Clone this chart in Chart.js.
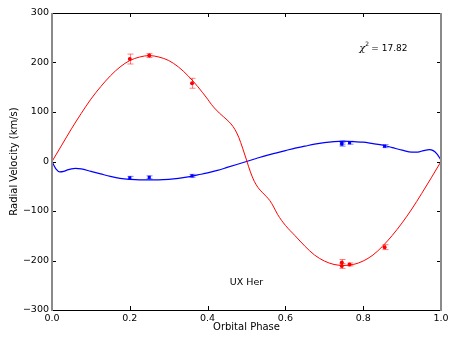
<!DOCTYPE html>
<html>
<head>
<meta charset="utf-8">
<script src="https://cdn.jsdelivr.net/npm/chart.js@4.4.1/dist/chart.umd.min.js"></script>
<style>
  html, body { margin: 0; padding: 0; background: #fff; }
  #wrap { width: 458px; height: 343px; }
</style>
</head>
<body>
<div id="wrap"><canvas id="rv" width="458" height="343"></canvas></div>
<script>
// observed radial velocities (km/s) with errors
const obsPhase = [0.20, 0.25, 0.36, 0.745, 0.745, 0.765, 0.855];
const obsRed = [207, 214, 158, -204, -211, -208, -173];
const errRed = [10, 4, 10, 6, 5, 3, 5];
const obsBlue = [-33, -32, -29, 35, 38, 38, 31];
const errBlue = [3, 3, 3, 4, 3, 3, 3];

// model curves
const modelPhaseRed = [0, 0.025, 0.05, 0.075, 0.1, 0.125, 0.15, 0.175, 0.2, 0.225, 0.25, 0.275, 0.3, 0.325,
  0.35, 0.375, 0.4, 0.41, 0.42, 0.43, 0.44, 0.45, 0.46, 0.47, 0.48, 0.49, 0.5, 0.51, 0.52, 0.53, 0.54,
  0.55, 0.56, 0.57, 0.58, 0.6, 0.625, 0.65, 0.675, 0.7, 0.725, 0.75, 0.775, 0.8, 0.825, 0.85, 0.875,
  0.9, 0.925, 0.95, 0.975, 1.0];
const modelRed = [0, 33, 66, 97, 126, 151, 173, 191, 204, 211, 214, 211, 204, 191,
  173, 151, 126, 115, 106, 98, 91, 84, 76, 65, 49, 27, 3, -21, -40, -53, -62,
  -70, -79, -92, -107, -129, -150, -171, -189, -201, -208, -210, -208, -201, -189, -171, -149,
  -124, -96, -65, -33, 0];

const modelPhaseBlue = [0, 0.005, 0.01, 0.02, 0.03, 0.04, 0.05, 0.06, 0.075, 0.1, 0.125, 0.15, 0.175,
  0.2, 0.225, 0.25, 0.275, 0.3, 0.325, 0.35, 0.375, 0.4, 0.425, 0.45, 0.475, 0.5, 0.525, 0.55,
  0.575, 0.6, 0.625, 0.65, 0.675, 0.7, 0.725, 0.75, 0.775, 0.8, 0.825, 0.85, 0.875, 0.9, 0.925,
  0.94, 0.955, 0.97, 0.98, 0.99, 1.0];
const modelBlue = [0, -8, -15, -21, -20, -17, -15, -14, -15, -20, -25, -30, -34,
  -36, -37, -37, -37, -36, -34, -31, -27, -23, -18, -12, -6, 0, 6, 12,
  17, 22, 27, 31, 35, 38, 40, 41, 40, 39, 36, 33, 28, 23, 19,
  19, 22, 24, 22, 15, 3];

const xTicks = [0, 0.2, 0.4, 0.6, 0.8, 1.0];
const yTicks = [-300, -200, -100, 0, 100, 200, 300];
const chiText = "17.82";
const starName = "UX Her";

function pts(xs, ys) {
  return xs.map((x, i) => ({ x, y: ys[i] }));
}

const FONT = "'DejaVu Sans', sans-serif";

// error bars, frame, inward ticks and annotations
const decor = {
  id: "decor",
  afterDatasetsDraw(chart) {
    const { ctx, scales: { x, y } } = chart;
    ctx.save();
    chart.data.datasets.forEach((ds) => {
      if (!ds.errors) return;
      ctx.strokeStyle = ds.errColor;
      ctx.lineWidth = 1;
      ds.data.forEach((p, i) => {
        const px = Math.round(x.getPixelForValue(p.x)) + 0.5;
        const y1 = y.getPixelForValue(p.y - ds.errors[i]);
        const y2 = y.getPixelForValue(p.y + ds.errors[i]);
        ctx.beginPath();
        ctx.moveTo(px, y1); ctx.lineTo(px, y2);
        ctx.moveTo(px - 3, y1); ctx.lineTo(px + 3, y1);
        ctx.moveTo(px - 3, y2); ctx.lineTo(px + 3, y2);
        ctx.stroke();
      });
    });
    ctx.restore();
  },
  afterDraw(chart) {
    const { ctx, chartArea: a, scales: { x, y } } = chart;
    ctx.save();
    // ticks inward
    ctx.strokeStyle = "#000";
    ctx.lineWidth = 1;
    ctx.beginPath();
    xTicks.forEach((t) => {
      const px = Math.round(x.getPixelForValue(t)) + 0.5;
      ctx.moveTo(px, a.bottom); ctx.lineTo(px, a.bottom - 4);
      ctx.moveTo(px, a.top); ctx.lineTo(px, a.top + 4);
    });
    yTicks.forEach((t) => {
      const py = Math.round(y.getPixelForValue(t)) + 0.5;
      ctx.moveTo(a.left, py); ctx.lineTo(a.left + 4, py);
      ctx.moveTo(a.right, py); ctx.lineTo(a.right - 4, py);
    });
    ctx.stroke();
    // frame
    ctx.beginPath();
    ctx.moveTo(a.left, a.top + 0.5); ctx.lineTo(a.right, a.top + 0.5);
    ctx.moveTo(a.left, a.bottom + 0.5); ctx.lineTo(a.right, a.bottom + 0.5);
    ctx.stroke();
    ctx.strokeStyle = "#8a8a8a";
    ctx.lineWidth = 2;
    ctx.beginPath();
    ctx.moveTo(a.left, a.top); ctx.lineTo(a.left, a.bottom + 1);
    ctx.moveTo(a.right, a.top); ctx.lineTo(a.right, a.bottom + 1);
    ctx.stroke();

    // axis titles
    ctx.fillStyle = "#000";
    ctx.font = "10px " + FONT;
    ctx.textAlign = "center";
    ctx.textBaseline = "middle";
    ctx.fillText("Orbital Phase", (a.left + a.right) / 2, 327);
    ctx.save();
    ctx.translate(14, (a.top + a.bottom) / 2);
    ctx.rotate(-Math.PI / 2);
    ctx.fillText("Radial Velocity (km/s)", 0, 0);
    ctx.restore();

    // annotations
    ctx.font = "9.5px " + FONT;
    ctx.fillText(starName, x.getPixelForValue(0.5), y.getPixelForValue(-245));
    const cx = x.getPixelForValue(0.79);
    const cy = y.getPixelForValue(228);
    ctx.textAlign = "left";
    ctx.font = "italic 10px 'DejaVu Serif', serif";
    ctx.fillText("\u03c7", cx, cy);
    ctx.font = "6px " + FONT;
    ctx.fillText("2", cx + 6, cy - 4);
    ctx.font = "9px " + FONT;
    ctx.fillText("= " + chiText, cx + 12, cy);
    ctx.restore();
  }
};

new Chart(document.getElementById("rv"), {
  type: "scatter",
  data: {
    datasets: [
      {
        data: pts(modelPhaseRed, modelRed),
        showLine: true,
        borderColor: "#ff0000",
        borderWidth: 1,
        pointRadius: 0,
        cubicInterpolationMode: "monotone"
      },
      {
        data: pts(modelPhaseBlue, modelBlue),
        showLine: true,
        borderColor: "#0000ff",
        borderWidth: 1.2,
        pointRadius: 0,
        cubicInterpolationMode: "monotone"
      },
      {
        data: pts(obsPhase, obsRed),
        errors: errRed,
        errColor: "rgba(255,0,0,0.5)",
        backgroundColor: "#ff0000",
        borderColor: "#ff0000",
        pointStyle: "circle",
        pointRadius: 2,
        borderWidth: 0
      },
      {
        data: pts(obsPhase, obsBlue),
        errors: errBlue,
        errColor: "rgba(0,0,255,0.5)",
        backgroundColor: "#0000ff",
        borderColor: "#0000ff",
        pointStyle: "rect",
        pointRadius: 2.2,
        borderWidth: 0
      }
    ]
  },
  options: {
    responsive: false,
    animation: false,
    events: [],
    layout: { padding: { top: 13, right: 17, left: 0, bottom: 0 } },
    plugins: {
      legend: { display: false },
      tooltip: { enabled: false }
    },
    scales: {
      x: {
        type: "linear",
        min: 0,
        max: 1,
        afterFit: (s) => { s.height = 33; },
        afterBuildTicks: (s) => { s.ticks = xTicks.map((v) => ({ value: v })); },
        grid: { display: false, drawTicks: false },
        border: { display: false },
        ticks: {
          padding: 3,
          color: "#000",
          font: { family: FONT, size: 9.5 },
          callback: (v) => Number(v).toFixed(1)
        }
      },
      y: {
        type: "linear",
        min: -300,
        max: 300,
        afterFit: (s) => { s.width = 52; },
        afterBuildTicks: (s) => { s.ticks = yTicks.map((v) => ({ value: v })); },
        grid: { display: false, drawTicks: false },
        border: { display: false },
        ticks: {
          padding: 3,
          color: "#000",
          font: { family: FONT, size: 9.5 },
          callback: (v) => String(v).replace("-", "\u2212")
        }
      }
    }
  },
  plugins: [decor]
});
</script>
</body>
</html>
